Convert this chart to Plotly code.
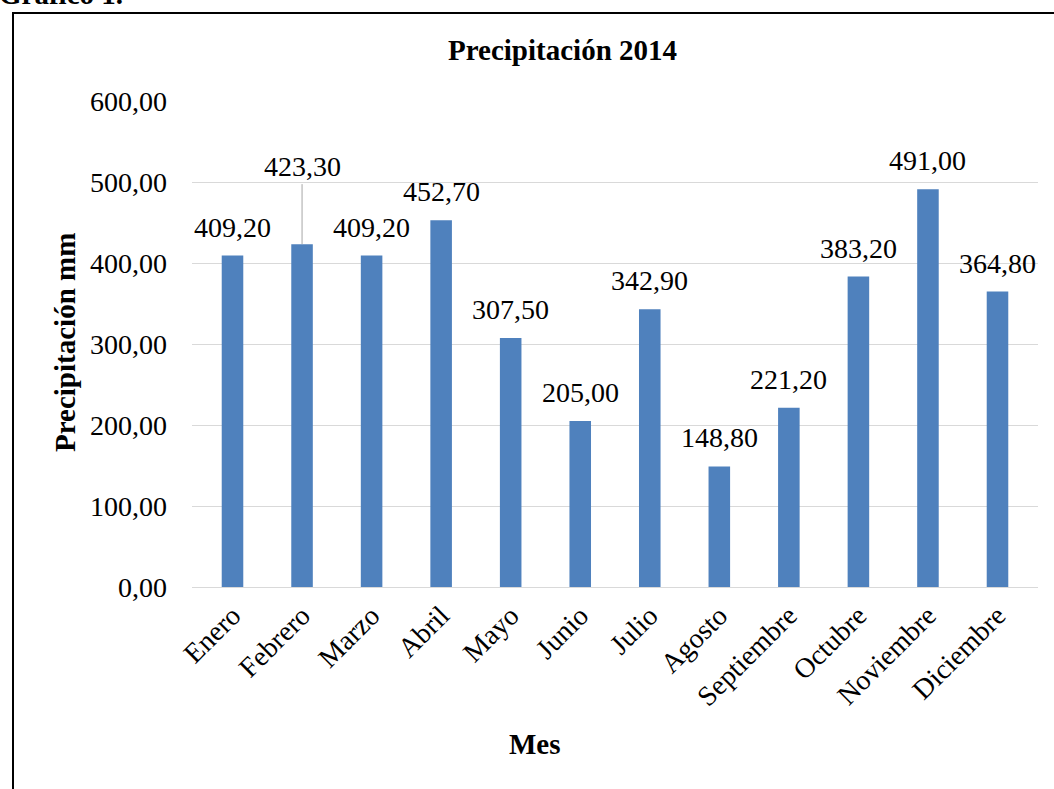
import plotly.graph_objects as go

meses = ["Enero", "Febrero", "Marzo", "Abril", "Mayo", "Junio", "Julio",
         "Agosto", "Septiembre", "Octubre", "Noviembre", "Diciembre"]
precipitacion = [409.20, 423.30, 409.20, 452.70, 307.50, 205.00, 342.90,
                 148.80, 221.20, 383.20, 491.00, 364.80]
y_ticks = [0, 100, 200, 300, 400, 500, 600]

def fmt(v):
    return f"{v:,.2f}".replace(",", "X").replace(".", ",").replace("X", ".")

FONT = "Liberation Serif, Times New Roman, serif"
W, H = 1054, 789
L, R, T, B = 192, 16, 101, 202
TS = 28   # tick/label font size
HS = 29   # heading font size

fig = go.Figure()
fig.add_trace(go.Bar(x=meses, y=precipitacion, marker=dict(color="#4F81BD", line=dict(width=0)),
                     showlegend=False, hoverinfo="x+y"))

ann = []
for m, v in zip(meses, precipitacion):
    if m == "Febrero":
        ann.append(dict(x=m, y=v, xref="x", yref="y", text=fmt(v), showarrow=True,
                        ax=0, ay=-60, arrowhead=0, arrowwidth=1, arrowcolor="#A6A6A6",
                        standoff=0, yanchor="bottom",
                        font=dict(family=FONT, size=TS, color="black")))
    else:
        ann.append(dict(x=m, y=v, xref="x", yref="y", text=fmt(v), showarrow=False,
                        yanchor="bottom", yshift=11,
                        font=dict(family=FONT, size=TS, color="black")))

pw = W - L - R
ph = H - T - B

ann.append(dict(text="<b>Precipitación 2014</b>", xref="paper", yref="paper",
                x=(562 - L) / pw, y=1 + (T - 50) / ph,
                showarrow=False, xanchor="center", yanchor="middle",
                font=dict(family=FONT, size=HS, color="black")))
ann.append(dict(text="<b>Mes</b>", xref="paper", yref="paper",
                x=(535 - L) / pw, y=-(744 - (H - B)) / ph,
                showarrow=False, xanchor="center", yanchor="middle",
                font=dict(family=FONT, size=HS, color="black")))
ann.append(dict(text="<b>Precipitación mm</b>", xref="paper", yref="paper",
                x=-(L - 65) / pw, y=(H - B - 343) / ph,
                showarrow=False, xanchor="center", yanchor="middle", textangle=-90,
                font=dict(family=FONT, size=HS, color="black")))
ann.append(dict(text="<b>Gráfico 1.</b>", xref="paper", yref="paper",
                x=-(L + 3) / pw, y=1 + (T + 6) / ph,
                showarrow=False, xanchor="left", yanchor="middle",
                font=dict(family=FONT, size=HS, color="black")))

shapes = [
    dict(type="rect", xref="paper", yref="paper",
         x0=-(L - 13) / pw, x1=1 + (R + 10) / pw,
         y0=-(B + 20) / ph, y1=1 + (T - 13) / ph,
         line=dict(color="black", width=2), fillcolor="rgba(0,0,0,0)", layer="below"),
]

fig.update_layout(
    width=W, height=H,
    margin=dict(l=L, r=R, t=T, b=B, autoexpand=False),
    paper_bgcolor="white", plot_bgcolor="white",
    bargap=0.69,
    font=dict(family=FONT, size=TS, color="black"),
    annotations=ann, shapes=shapes,
    xaxis=dict(tickangle=-45, showgrid=False, showline=True, linecolor="#D9D9D9",
               linewidth=1, ticks="", tickfont=dict(family=FONT, size=TS, color="black")),
    yaxis=dict(range=[0, 600], tickvals=y_ticks, ticktext=[fmt(v) for v in y_ticks],
               showgrid=True, gridcolor="#D9D9D9", gridwidth=1, zeroline=False,
               showline=False, ticks="", ticklabelstandoff=24,
               tickfont=dict(family=FONT, size=TS, color="black")),
)

fig.write_html("out.html", config={"displayModeBar": False},
               post_script="document.body.style.margin='0';document.body.style.padding='0';document.body.style.overflow='hidden';")
